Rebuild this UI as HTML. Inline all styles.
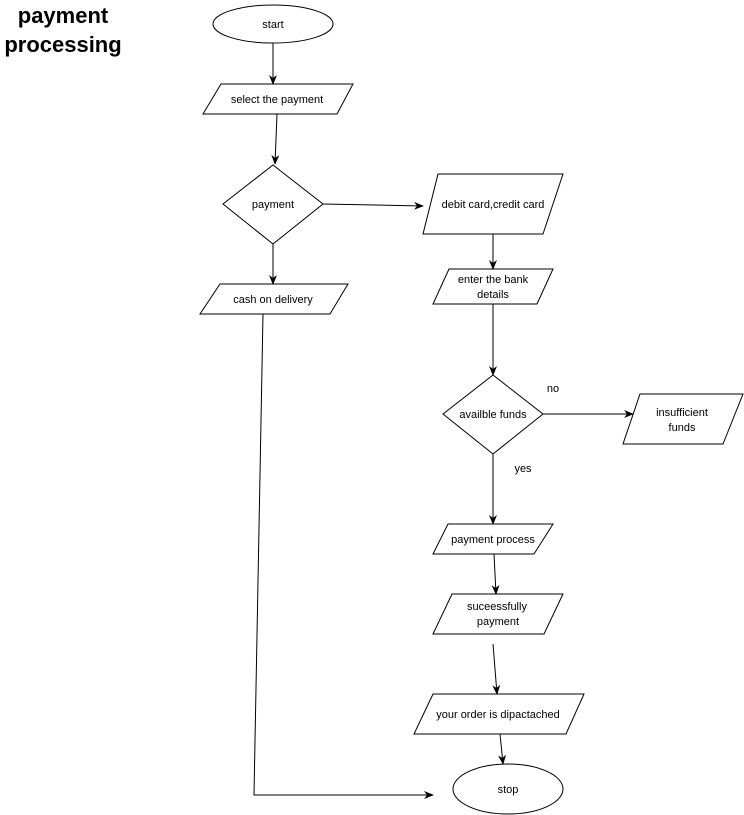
<!DOCTYPE html>
<html><head><meta charset="utf-8"><style>
body{margin:0;background:#fff;}
svg{display:block;}
text{font-family:"Liberation Sans",Arial,sans-serif;font-size:11px;fill:#000;}
</style></head><body>
<svg width="744" height="815" viewBox="0 0 744 815" xmlns="http://www.w3.org/2000/svg">
<defs><marker id="a" markerWidth="10" markerHeight="10" refX="9" refY="5" orient="auto" markerUnits="userSpaceOnUse"><path d="M0,1 L10,5 L0,9 L3,5 z" fill="#000"/></marker></defs>
<g fill="none" stroke="#000" stroke-width="1">
<ellipse cx="273" cy="24" rx="60" ry="19" fill="#fff"/>
<polygon points="221,84 353,84 337,114 203,114" fill="#fff"/>
<polygon points="273,165 323,204 273,244 223,204" fill="#fff"/>
<polygon points="438,174 563,174 543,234 423,234" fill="#fff"/>
<polygon points="449,269 553,269 537,304 433,304" fill="#fff"/>
<polygon points="220,284 348,284 330,314 200,314" fill="#fff"/>
<polygon points="493,375 543,414 493,454 443,414" fill="#fff"/>
<polygon points="640,394 743,394 723,444 623,444" fill="#fff"/>
<polygon points="448,524 553,524 534,554 433,554" fill="#fff"/>
<polygon points="452,594 563,594 544,634 433,634" fill="#fff"/>
<polygon points="433,694 584,694 566,734 414,734" fill="#fff"/>
<ellipse cx="508" cy="789" rx="55" ry="25" fill="#fff"/>
<g marker-end="url(#a)">
<line x1="273" y1="43" x2="273" y2="84"/>
<line x1="277" y1="114" x2="275" y2="164"/>
<line x1="323" y1="204" x2="423" y2="206"/>
<line x1="493" y1="234" x2="493" y2="269"/>
<line x1="273" y1="244" x2="273" y2="284"/>
<polyline points="263,314 254,795 433,795"/>
<line x1="493" y1="304" x2="493" y2="375"/>
<line x1="543" y1="414" x2="633" y2="414"/>
<line x1="493" y1="454" x2="493" y2="524"/>
<line x1="494" y1="554" x2="496" y2="594"/>
<line x1="493" y1="644" x2="497" y2="694"/>
<line x1="500" y1="734" x2="503" y2="764"/>
</g>
</g>
<text x="63" y="23" text-anchor="middle" style="font-size:22px;font-weight:bold">payment</text>
<text x="63" y="52" text-anchor="middle" style="font-size:22px;font-weight:bold">processing</text>
<g text-anchor="middle">
<text x="273" y="28">start</text>
<text x="277" y="103">select the payment</text>
<text x="273" y="208">payment</text>
<text x="493" y="208">debit card,credit card</text>
<text x="493" y="283">enter the bank</text>
<text x="493" y="298">details</text>
<text x="273" y="303">cash on delivery</text>
<text x="493" y="418">availble funds</text>
<text x="553" y="392">no</text>
<text x="682" y="416">insufficient</text>
<text x="682" y="431">funds</text>
<text x="523" y="472">yes</text>
<text x="493" y="543">payment process</text>
<text x="497" y="610">suceessfully</text>
<text x="498" y="625">payment</text>
<text x="498" y="718">your order is dipactached</text>
<text x="508" y="793">stop</text>
</g>
</svg>
</body></html>
